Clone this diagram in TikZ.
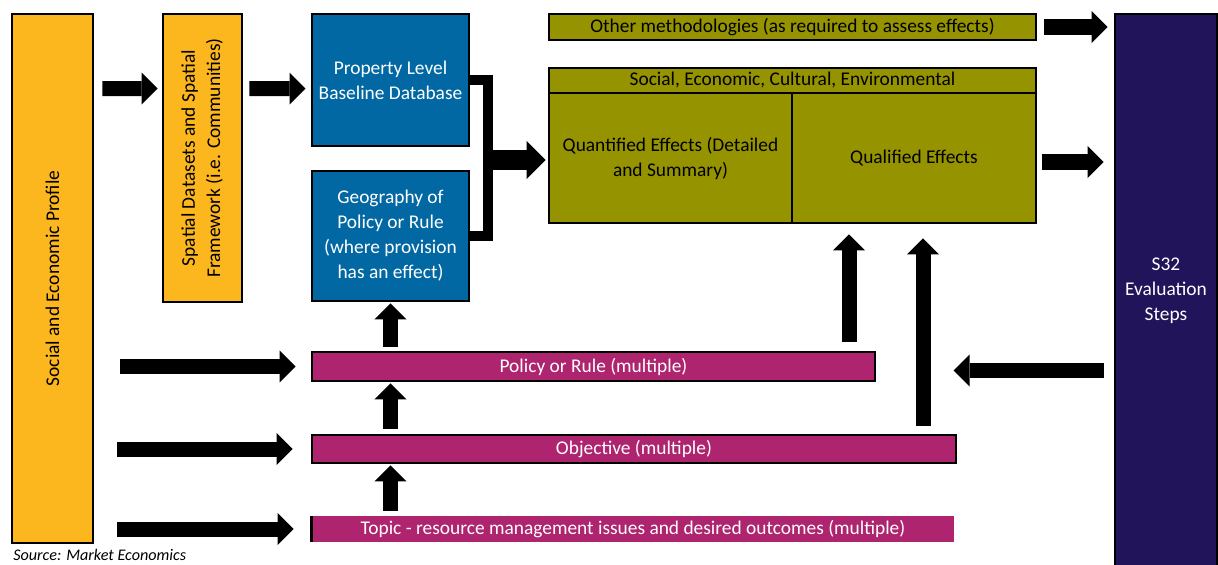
\documentclass[tikz,border=0pt]{standalone}
\usepackage{fontspec}
\setmainfont{Carlito}
\usepackage{tikz}
\usetikzlibrary{arrows.meta, positioning, calc}
\definecolor{profileorange}{RGB}{253,183,30}
\definecolor{baseblue}{RGB}{2,104,164}
\definecolor{effectolive}{RGB}{149,147,0}
\definecolor{planmagenta}{RGB}{174,36,111}
\definecolor{stepspurple}{RGB}{34,20,90}
\tikzset{
  flow/.style={
	x=0.025cm, y=-0.025cm, % one unit is one pixel of the sketch, y runs down
	every node/.style={font=\fontsize{13.8}{17.8}\selectfont, align=center, inner sep=0pt},
  },
  box/.style={draw=black, line width=2pt}, % black frame round every box
  orangebox/.style={box, fill=profileorange},
  bluebox/.style={box, fill=baseblue, text=white},
  olivebox/.style={box, fill=effectolive},
  pinkbox/.style={box, fill=planmagenta, text=white},
  purplebox/.style={box, fill=stepspurple, text=white},
  blockarrow/.style={line width=0.375cm, -{Triangle[width=0.8cm, length=0.4cm, line width=0pt]}}, % fat black arrows
  bigarrow/.style={line width=0.475cm, -{Triangle[width=0.95cm, length=0.475cm, line width=0pt]}},
  bracketline/.style={line width=0.25cm},
}

\begin{document}
\begin{tikzpicture}[flow]
	  \useasboundingbox (0,0) rectangle (1218,565);
	  % left column
	  \node[orangebox, minimum width=2.025cm, minimum height=13.225cm] (profile) at (52.5,278.5) {\rotatebox{90}{Social and Economic Profile}};
	  \node[orangebox, minimum width=1.975cm, minimum height=7.2cm] (spatial) at (202.5,158) {\rotatebox{90}{\begin{tabular}{@{}c@{}}Spatial Datasets and Spatial\\Framework (i.e. Communities)\end{tabular}}};
	  % baseline
	  \node[bluebox, minimum width=3.925cm, minimum height=3.3cm] (prop) at (390.5,80) {Property Level\\Baseline Database};
	  \node[bluebox, minimum width=3.925cm, minimum height=3.25cm] (geo) at (390.5,236) {Geography of\\Policy or Rule\\(where provision\\has an effect)};
	  % effects
	  \node[olivebox, minimum width=12.175cm, minimum height=0.65cm] (other) at (792.5,27) {Other methodologies (as required to assess effects)};
	  \node[olivebox, minimum width=12.175cm, minimum height=0.625cm] (sectors) at (792.5,80.5) {Social, Economic, Cultural, Environmental};
	  \node[olivebox, minimum width=6.075cm, minimum height=3.25cm] (quant) at (670.5,158) {Quantified Effects (Detailed\\and Summary)};
	  \node[olivebox, minimum width=6.1cm, minimum height=3.25cm] (qual) at (914,158) {Qualified Effects};
	  \node[purplebox, minimum width=2.55cm, minimum height=13.85cm] (s32) at (1166,291) {S32\\Evaluation\\Steps};
	  % plan provisions
	  \node[pinkbox, minimum width=14.075cm, minimum height=0.725cm] (pol) at (593.5,366.5) {Policy or Rule (multiple)};
	  \node[pinkbox, minimum width=16.1cm, minimum height=0.7cm] (obj) at (634,449) {Objective (multiple)};
	  \node[fill=planmagenta, text=white, minimum width=16.05cm, minimum height=0.65cm] (topic) at (633,529) {Topic - resource management issues and desired outcomes (multiple)};
	  \draw[line width=2pt] (topic.north west) -- (topic.south west);
	  \node[anchor=west, font=\fontsize{11.5}{13}\selectfont\itshape] (source) at (13,554.5) {Source: Market Economics};

	  \coordinate (join) at (488,160);
	  \coordinate (upq) at (849,0);
	  \coordinate (upl) at (923,0);
	  \coordinate (l1) at (120,366.5);
	  \coordinate (l2) at (117,449);
	  \coordinate (l3) at (117,529);

	  \draw[bracketline] (prop.east) -| (join) |- (geo.east);
	  \draw[bigarrow, shorten >=0.05cm] (join) -- (join -| quant.west);
	  \draw[blockarrow, shorten <=0.2cm, shorten >=0.1cm] ([yshift=-1.9cm]profile.north east) -- ([yshift=-1.9cm]spatial.north west);
	  \draw[blockarrow, shorten <=0.15cm, shorten >=0.125cm] ([yshift=-1.9cm]spatial.north east) -- ([yshift=-1.9cm]prop.north west);
	  \draw[blockarrow, shorten <=0.175cm, shorten >=0.15cm] (other.east) -- (other.east -| s32.west);
	  \draw[blockarrow, shorten <=0.125cm, shorten >=0.25cm] ([yshift=-0.1cm]qual.east) -- ([yshift=-0.1cm]qual.east -| s32.west);
	  \draw[blockarrow, shorten <=0.25cm, shorten >=1.925cm] ([yshift=-0.1cm]s32.west |- pol.east) -- ([yshift=-0.1cm]pol.east);
	  \draw[blockarrow, shorten >=0.375cm] (l1) -- (pol.west);
	  \draw[blockarrow, shorten >=0.45cm] (l2) -- (obj.west);
	  \draw[blockarrow, shorten >=0.45cm] (l3) -- (topic.west);
	  \draw[blockarrow, shorten <=0.1cm, shorten >=0.025cm] (pol.north -| geo.south) -- (geo.south);
	  \draw[blockarrow, shorten <=0.125cm, shorten >=0.025cm] (obj.north -| geo.south) -- (pol.south -| geo.south);
	  \draw[blockarrow, shorten <=0.125cm, shorten >=0.025cm] (topic.north -| geo.south) -- (obj.south -| geo.south);
	  \draw[blockarrow, shorten <=0.225cm, shorten >=0.25cm] (pol.north -| upq) -- (quant.south -| upq);
	  \draw[blockarrow, shorten <=0.2cm, shorten >=0.35cm] (obj.north -| upl) -- (qual.south -| upl);
\end{tikzpicture}
\end{document}
